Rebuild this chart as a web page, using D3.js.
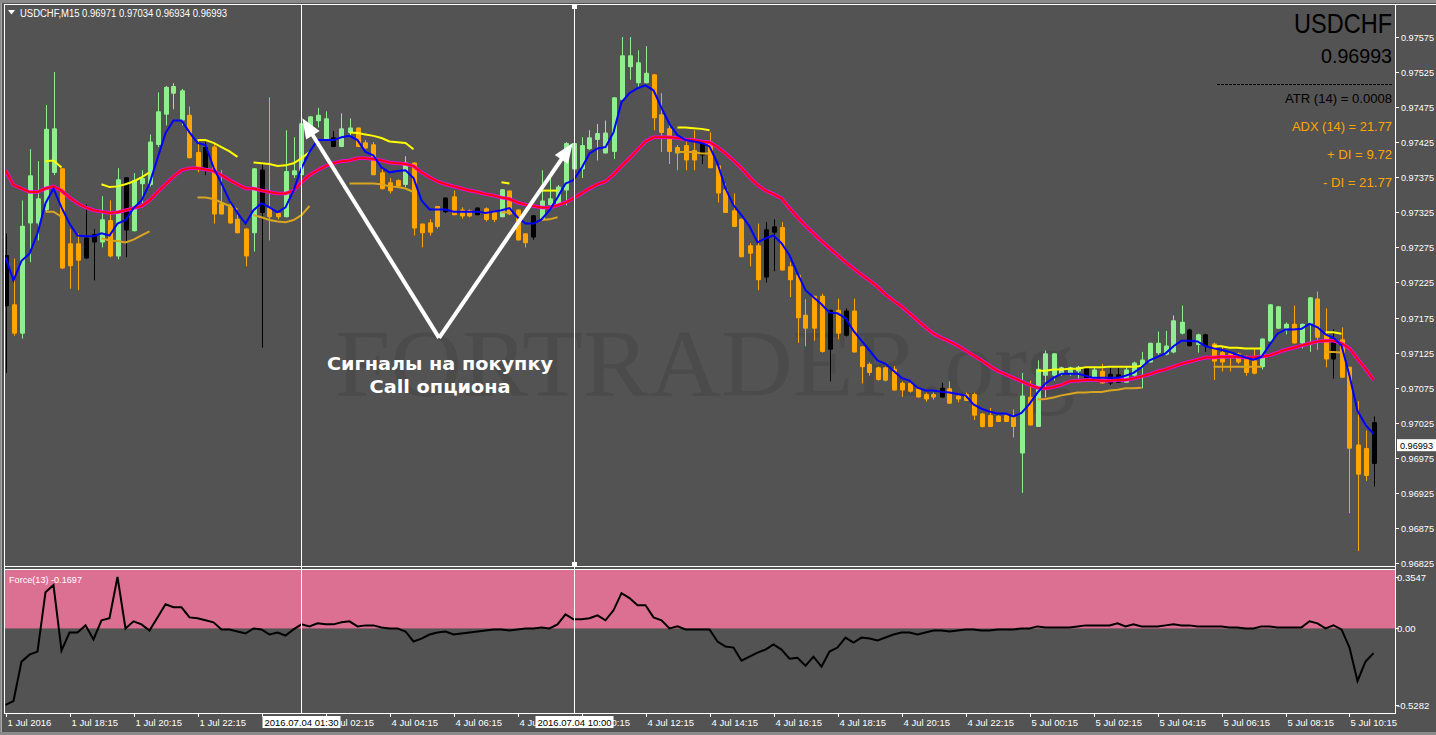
<!DOCTYPE html>
<html><head><meta charset="utf-8">
<script src="https://cdn.jsdelivr.net/npm/d3@7"></script>
<style>html,body{margin:0;padding:0;background:#707070;overflow:hidden}svg{display:block}</style>
</head><body><svg id="c" width="1436" height="735"></svg>
<script>
// ---------------- DATA ----------------
const symbol = "USDCHF", timeframe = "M15";
const headerOHLC = [0.96971, 0.97034, 0.96934, 0.96993];
const lastPrice = 0.96993;
// candle colour class: g = light green, o = orange, k = black
const kinds = "kogggggooo"+"kkgogkgggg"+"gggookoooo"+"ogkooggggg"+"gkggoooooo"+"gooookoook"+"oogoookggg"+"gggggggggg"+"gooooookoo"+"oooookkooo"+"oookokoooo"+"oooooookoo"+"ooooooogog"+"gggggkgokk"+"ggggggggkg"+"kooooooggg"+"goggookooo"+"ok";
const open = [.97264,.97194,.97152,.97309,.97309,.97328,.97381,.97388,.97281,.97281,
.97289,.97294,.97282,.97314,.97262,.97375,.97298,.97365,.97364,.97421,
.97464,.97494,.97456,.97464,.97411,.97418,.97419,.97338,.97336,.97316,
.97302,.97295,.97386,.97332,.97324,.97318,.97378,.97378,.97446,.97455,
.97428,.97432,.97418,.97438,.97446,.97425,.97422,.97382,.97368,.97371,
.97364,.97396,.97309,.97311,.97334,.97346,.97348,.97329,.97328,.97332,
.97331,.97325,.97318,.97356,.97329,.97295,.97321,.97314,.97335,.97334,
.97356,.97386,.97386,.97415,.97428,.97409,.97411,.97485,.97532,.97509,
.97509,.97522,.97465,.97445,.97418,.97421,.97414,.97426,.97426,.97392,
.97358,.97328,.97316,.97278,.97278,.97301,.97305,.97304,.97248,.97236,
.97179,.97206,.97206,.97186,.97186,.97185,.97185,.97134,.97109,.97104,
.97104,.97102,.97082,.97082,.97074,.97066,.97066,.97075,.97074,.97064,
.97066,.97066,.97038,.97036,.97035,.97036,.97034,.96981,.97062,.97019,
.97092,.97092,.97094,.97094,.97098,.97104,.97086,.97099,.97095,.97094,
.97082,.97092,.97106,.97111,.97124,.97122,.97125,.97152,.97158,.97136,
.97151,.97138,.97126,.97124,.97124,.97119,.97114,.97104,.97141,.97159,
.97159,.97166,.97138,.97166,.97202,.97152,.97145,.97144,.97105,.96994,
.96989,.97026];
const high = [.97295,.97259,.97342,.97415,.97398,.97478,.97525,.97388,.97301,.97295,
.97336,.97301,.97348,.97342,.97388,.97375,.97381,.97385,.97436,.97496,
.97505,.97509,.97501,.97476,.97428,.97425,.97425,.97385,.97342,.97322,
.97302,.97388,.97395,.97489,.97326,.97442,.97432,.97452,.97462,.97474,
.97469,.97441,.97466,.97459,.97446,.97428,.97425,.97388,.97374,.97372,
.97405,.97396,.97309,.97315,.97334,.97346,.97356,.97332,.97329,.97332,
.97332,.97326,.97358,.97356,.97329,.97295,.97321,.97385,.97382,.97364,
.97425,.97425,.97432,.97442,.97451,.97456,.97489,.97575,.97575,.97556,
.97562,.97522,.97495,.97449,.97421,.97428,.97442,.97428,.97439,.97392,
.97366,.97352,.97316,.97281,.97309,.97311,.97315,.97311,.97254,.97236,
.97201,.97206,.97209,.97186,.97202,.97188,.97202,.97134,.97111,.97105,
.97105,.97106,.97084,.97084,.97075,.97068,.97068,.97082,.97084,.97065,
.97068,.97068,.97039,.97046,.97036,.97038,.97044,.97096,.97085,.97114,
.97128,.97124,.97105,.97105,.97106,.97105,.97104,.97109,.97104,.97104,
.97105,.97112,.97126,.97139,.97155,.97156,.97178,.97192,.97159,.97152,
.97152,.97139,.97134,.97125,.97125,.97121,.97131,.97145,.97194,.97191,
.97168,.97192,.97166,.97204,.97212,.97188,.97158,.97161,.97105,.97056,
.97014,.97034];
const low = [.97096,.97149,.97145,.97254,.97285,.97325,.97378,.97244,.97216,.97214,
.97259,.97228,.97275,.97261,.97258,.97261,.97298,.97332,.97362,.97418,
.97449,.97472,.97449,.97402,.97382,.97378,.97309,.97322,.97309,.97295,
.97248,.97269,.97132,.97285,.97315,.97318,.97374,.97378,.97446,.97446,
.97428,.97418,.97418,.97432,.97418,.97416,.97378,.97358,.97352,.97361,
.97361,.97292,.97275,.97292,.97302,.97324,.97321,.97316,.97318,.97321,
.97312,.97311,.97318,.97321,.97285,.97275,.97286,.97314,.97332,.97334,
.97335,.97374,.97374,.97414,.97399,.97409,.97401,.97485,.97514,.97504,
.97509,.97442,.97411,.97394,.97385,.97385,.97385,.97394,.97388,.97339,
.97324,.97304,.97261,.97248,.97214,.97225,.97241,.97242,.97204,.97139,
.97134,.97142,.97125,.97084,.97144,.97148,.97125,.97081,.97092,.97085,
.97084,.97071,.97062,.97068,.97061,.97055,.97058,.97061,.97052,.97054,
.97056,.97029,.97018,.97019,.97026,.97026,.97004,.96925,.97021,.97019,
.97061,.97085,.97092,.97092,.97088,.97086,.97086,.97081,.97079,.97082,
.97082,.97086,.97074,.97111,.97122,.97121,.97124,.97151,.97134,.97125,
.97126,.97086,.97098,.97098,.97109,.97092,.97094,.97101,.97141,.97159,
.97151,.97138,.97131,.97126,.97129,.97104,.97088,.97089,.96896,.96842,
.96942,.96934];
const close = [.97191,.97152,.97306,.97378,.97345,.97444,.97445,.97245,.97248,.97256,
.97259,.97282,.97315,.97262,.97372,.97299,.97371,.97374,.97426,.97469,
.97504,.97505,.97499,.97402,.97385,.97385,.97322,.97322,.97309,.97295,
.97262,.97388,.97324,.97318,.97318,.97384,.97385,.97452,.97462,.97464,
.97459,.97418,.97445,.97446,.97418,.97416,.97378,.97358,.97355,.97362,
.97396,.97302,.97295,.97296,.97304,.97325,.97321,.97319,.97319,.97321,
.97314,.97314,.97358,.97322,.97285,.97281,.97289,.97342,.97345,.97362,
.97424,.97424,.97421,.97432,.97438,.97439,.97489,.97549,.97549,.97539,
.97524,.97459,.97438,.97411,.97409,.97399,.97399,.97406,.97388,.97352,
.97324,.97304,.97261,.97266,.97228,.97232,.97296,.97242,.97228,.97174,
.97159,.97159,.97126,.97129,.97152,.97149,.97125,.97104,.97096,.97086,
.97085,.97071,.97071,.97069,.97061,.97058,.97061,.97061,.97052,.97058,
.97056,.97035,.97019,.97019,.97026,.97026,.97019,.97064,.97021,.97102,
.97124,.97124,.97104,.97104,.97105,.97088,.97101,.97081,.97081,.97082,
.97101,.97111,.97115,.97139,.97139,.97135,.97171,.97169,.97134,.97151,
.97134,.97112,.97111,.97118,.97111,.97096,.97095,.97145,.97194,.97191,
.97166,.97138,.97166,.97204,.97146,.97115,.97115,.97089,.96988,.96951,
.96949,.96966];
// fast (blue) and slow (red) moving averages
const fastMA = [.97261,.97228,.97256,.97266,.97295,.97338,.97359,.97332,.97309,.97292,
.97291,.97291,.97295,.97292,.97309,.97314,.97331,.97342,.97366,.97402,
.97438,.97456,.97456,.97439,.97424,.97421,.97389,.97366,.97342,.97324,
.97309,.97328,.97338,.97332,.97325,.97332,.97356,.97388,.97411,.97428,
.97428,.97428,.97432,.97434,.97428,.97411,.97406,.97389,.97382,.97384,
.97385,.97374,.97342,.97329,.97329,.97329,.97326,.97326,.97326,.97326,
.97324,.97326,.97328,.97331,.97318,.97309,.97309,.97315,.97328,.97346,
.97366,.97371,.97388,.97409,.97416,.97418,.97439,.97482,.97495,.97502,
.97506,.97499,.97474,.97451,.97435,.97428,.97426,.97424,.97419,.97395,
.97359,.97335,.97321,.97305,.97282,.97288,.97292,.97281,.97264,.97238,
.97214,.97204,.97194,.97182,.97181,.97174,.97156,.97142,.97128,.97114,
.97109,.97099,.97089,.97085,.97075,.97071,.97071,.97069,.97068,.97066,
.97064,.97051,.97045,.97041,.97038,.97038,.97034,.97039,.97052,.97068,
.97081,.97089,.97095,.97095,.97095,.97092,.97089,.97089,.97089,.97089,
.97092,.97096,.97104,.97114,.97119,.97124,.97134,.97142,.97142,.97141,
.97134,.97131,.97129,.97126,.97122,.97118,.97115,.97119,.97136,.97152,
.97158,.97158,.97159,.97166,.97161,.97151,.97146,.97135,.97092,.97042,
.97022,.97009];
const slowMA = [.97385,.97364,.97359,.97354,.97354,.97359,.97362,.97356,.97346,.97338,
.97332,.97328,.97326,.97324,.97325,.97328,.97331,.97334,.97342,.97354,
.97365,.97376,.97385,.97388,.97388,.97386,.97384,.97378,.97371,.97365,
.97359,.97359,.97356,.97354,.97352,.97352,.97356,.97368,.97378,.97385,
.97391,.97395,.97398,.97399,.97402,.97402,.97401,.97399,.97396,.97395,
.97394,.97391,.97382,.97375,.97369,.97365,.97362,.97359,.97356,.97354,
.97351,.97349,.97346,.97344,.97339,.97336,.97334,.97332,.97332,.97335,
.97339,.97345,.97352,.97359,.97365,.97369,.97379,.97391,.97402,.97414,
.97426,.97432,.97432,.97432,.97431,.97429,.97428,.97426,.97425,.97418,
.97409,.97399,.97388,.97375,.97364,.97356,.97351,.97345,.97331,.97318,
.97306,.97295,.97284,.97274,.97264,.97254,.97245,.97236,.97228,.97219,
.97208,.97199,.97191,.97181,.97171,.97161,.97152,.97146,.97141,.97135,
.97128,.97121,.97114,.97106,.97099,.97094,.97089,.97084,.97079,.97075,
.97074,.97076,.97079,.97084,.97085,.97086,.97086,.97085,.97085,.97086,
.97086,.97088,.97091,.97094,.97098,.97101,.97105,.97109,.97112,.97115,
.97118,.97118,.97119,.97119,.97119,.97118,.97118,.97119,.97121,.97125,
.97129,.97132,.97135,.97138,.97141,.97142,.97142,.97138,.97131,.97116,
.97102,.97086];
// channel segments (first candle index, values)
const upperStart = [5,12,24,31,43,62,67,84,129,151,165];
const upperVals = [
 [.97398,.97399,.97389],
 [.97365,.97361,.97362,.97365,.97369,.97375,.97382],
 [.97428,.97428,.97424,.97418,.97412,.97404],
 [.97396,.97395,.97394,.97391,.97392,.97395,.97402,.97411],
 [.97439,.97438,.97436,.97434,.97431,.97426,.97425,.97424,.97415],
 [.97368,.97366],
 [.97356,.97356,.97356],
 [.97446,.97446,.97445,.97444,.97442],
 [.97099,.97099,.97101,.97101,.97102,.97102,.97104,.97104,.97104,.97105,.97105,.97105,.97105,.97106],
 [.97134,.97134,.97132,.97132,.97131,.97131,.97131],
 [.97154,.97154,.97152]];
const lowerStart = [5,12,24,31,43,62,67,84,129,151,165];
const lowerVals = [
 [.97326,.97326,.97319],
 [.97288,.97285,.97284,.97282,.97286,.97292,.97298],
 [.97346,.97346,.97344,.97339,.97334,.97329],
 [.97321,.97318,.97314,.97312,.97311,.97314,.97321,.97334],
 [.97366,.97366,.97366,.97366,.97365,.97362,.97361,.97359,.97354],
 [.97325,.97325],
 [.97314,.97315,.97318],
 [.97411,.97411,.97411,.97409,.97409],
 [.97058,.97059,.97061,.97064,.97066,.97068,.97068,.97069,.97069,.97071,.97072,.97074,.97074,.97075],
 [.97105,.97105,.97105,.97105,.97105,.97105,.97105],
 [.97126,.97126,.97125]];
// Force Index (13)
const force = [-0.528,-0.501,-0.229,-0.181,-0.160,0.250,0.299,-0.153,-0.028,-0.028,
0.021,-0.076,0.056,0.070,0.355,0.000,0.049,0.028,-0.014,0.076,
0.167,0.146,0.146,0.076,0.070,0.056,0.042,-0.007,-0.007,-0.021,
-0.035,0.000,-0.007,-0.042,-0.028,-0.049,-0.007,0.028,0.014,0.035,
0.028,0.028,0.042,0.049,0.014,0.021,0.021,0.007,0.000,0.000,
-0.021,-0.090,-0.070,-0.042,-0.028,-0.021,-0.042,-0.035,-0.028,-0.021,
-0.014,-0.007,-0.007,-0.014,-0.007,0.000,0.000,0.007,0.000,0.028,
0.097,0.063,0.063,0.070,0.090,0.056,0.125,0.243,0.209,0.160,
0.160,0.076,0.056,0.000,0.014,-0.007,-0.007,-0.007,-0.007,-0.090,
-0.125,-0.132,-0.223,-0.195,-0.167,-0.146,-0.111,-0.146,-0.209,-0.202,
-0.257,-0.195,-0.264,-0.160,-0.132,-0.063,-0.097,-0.063,-0.070,-0.083,
-0.063,-0.042,-0.028,-0.028,-0.042,-0.028,-0.014,-0.014,-0.021,-0.014,
-0.007,-0.007,-0.014,-0.014,-0.007,-0.007,-0.007,0.000,0.000,0.014,
0.007,0.007,0.007,0.007,0.014,0.021,0.021,0.021,0.021,0.035,
0.014,0.028,0.014,0.014,0.014,0.021,0.028,0.021,0.021,0.014,
0.014,0.014,0.014,0.007,0.007,0.000,0.000,0.014,0.014,0.007,
0.007,0.007,0.007,0.049,0.035,0.000,0.021,-0.007,-0.132,-0.362,
-0.229,-0.170];
const forceLabel = "Force(13) -0.1697";
const priceTicks = [0.96825,0.96875,0.96925,0.96975,0.97025,0.97075,0.97125,0.97175,0.97225,0.97275,0.97325,0.97375,0.97425,0.97475,0.97525,0.97575];
const forceTicks = [0.3547, 0.00, -0.5282];
const forceTickLabels = ["0.3547","0.00","-0.5282"];
const timeTickEvery = 8;
const timeLabels = ["1 Jul 2016","1 Jul 18:15","1 Jul 20:15","1 Jul 22:15","4 Jul 00:15","4 Jul 02:15","4 Jul 04:15","4 Jul 06:15","4 Jul 08:15","4 Jul 10:15","4 Jul 12:15","4 Jul 14:15","4 Jul 16:15","4 Jul 18:15","4 Jul 20:15","4 Jul 22:15","5 Jul 00:15","5 Jul 02:15","5 Jul 04:15","5 Jul 06:15","5 Jul 08:15","5 Jul 10:15"];
const crossIdx = [37, 71];
const crossLabels = ["2016.07.04 01:30","2016.07.04 10:00"];
const infoLines = [
  {t:"ATR (14) = 0.0008", c:"#000000", w:107},
  {t:"ADX (14) = 21.77", c:"#FFA500", w:100},
  {t:"+ DI = 9.72", c:"#FFA500", w:65},
  {t:"- DI = 21.77", c:"#FFA500", w:69}];
const signalText = ["Сигналы на покупку","Call опциона"];
// arrow annotation in data coordinates (candle index, price)
const arrowBase = [54.2, 0.97146];
const arrowTips = [[37.1, 0.97459],[70.9, 0.97424]];

// ---------------- DRAW ----------------
const svg = d3.select("#c");
const FONT = "'Liberation Sans', Arial, sans-serif";
const BG = "#535353";
const colorOf = {g:"#90EE90", o:"#FFA500", k:"#000000"};

const x = d3.scaleLinear().domain([0,171]).range([5.5,1373.5]);
const y = d3.scaleLinear().domain([0.96825,0.97575]).range([563,37]);
const yF = d3.scaleLinear().domain([-0.5282,0.3547]).range([705,577]);

const defs = svg.append("defs");
defs.append("clipPath").attr("id","cm").append("rect").attr("x",5).attr("y",5).attr("width",1390).attr("height",561);
defs.append("clipPath").attr("id","cf").append("rect").attr("x",5).attr("y",570).attr("width",1390).attr("height",143);

svg.append("rect").attr("x",0).attr("y",0).attr("width",1436).attr("height",735).attr("fill","#8a8a8a");
svg.append("rect").attr("x",2).attr("y",3).attr("width",1434).attr("height",729).attr("fill",BG);

// watermark
svg.append("text").attr("x",335).attr("y",396).attr("font-family","'Liberation Serif','Times New Roman',serif")
  .attr("font-size",96).attr("fill","#4b4b4b").attr("textLength",740).attr("lengthAdjust","spacingAndGlyphs")
  .text("FORTRADER.org");

// force panel fill (positive area)
svg.append("rect").attr("x",5).attr("y",570).attr("width",1390).attr("height",yF(0)-570).attr("fill","#DB7093");

// candles
const gC = svg.append("g").attr("clip-path","url(#cm)");
const idx = d3.range(open.length);
gC.selectAll("line.w").data(idx).join("line")
  .attr("x1",i=>Math.round(x(i))+0.5).attr("x2",i=>Math.round(x(i))+0.5)
  .attr("y1",i=>y(high[i])).attr("y2",i=>y(low[i]))
  .attr("stroke",i=>colorOf[kinds[i]]).attr("stroke-width",1);
gC.selectAll("rect.b").data(idx).join("rect")
  .attr("x",i=>Math.round(x(i))-2).attr("width",5)
  .attr("y",i=>y(Math.max(open[i],close[i])))
  .attr("height",i=>Math.max(2,y(Math.min(open[i],close[i]))-y(Math.max(open[i],close[i]))))
  .attr("rx",1).attr("fill",i=>colorOf[kinds[i]]);

// lines
const line = d3.line().x(d=>x(d[0])).y(d=>y(d[1]));
const gL = svg.append("g").attr("clip-path","url(#cm)").attr("fill","none");
upperStart.forEach((s,k)=>{
  gL.append("path").attr("d",line(upperVals[k].map((v,j)=>[s+j,v]))).attr("stroke","#FFFF00").attr("stroke-width",2);
});
lowerStart.forEach((s,k)=>{
  gL.append("path").attr("d",line(lowerVals[k].map((v,j)=>[s+j,v]))).attr("stroke","#DAA520").attr("stroke-width",2);
});
const slowPts = slowMA.map((v,i)=>[i,v]);
gL.append("path").attr("d",line(slowPts)).attr("stroke","#FF00FF").attr("stroke-width",3.5);
gL.append("path").attr("d",line(slowPts)).attr("stroke","#FF0000").attr("stroke-width",2);
gL.append("path").attr("d",line(fastMA.map((v,i)=>[i,v]))).attr("stroke","#0000FF").attr("stroke-width",2);

// force line
const fLine = d3.line().x((d,i)=>x(i)).y(d=>yF(d));
svg.append("g").attr("clip-path","url(#cf)").append("path").attr("d",fLine(force))
  .attr("fill","none").attr("stroke","#000").attr("stroke-width",2);

// frame
const fr = svg.append("g").attr("stroke","#ffffff").attr("stroke-width",1).attr("shape-rendering","crispEdges");
fr.append("line").attr("x1",4).attr("x2",1436).attr("y1",4.5).attr("y2",4.5);
fr.append("line").attr("x1",4.5).attr("x2",4.5).attr("y1",4).attr("y2",714);
fr.append("line").attr("x1",1395.5).attr("x2",1395.5).attr("y1",4).attr("y2",714);
fr.append("line").attr("x1",4).attr("x2",1396).attr("y1",566.5).attr("y2",566.5);
fr.append("line").attr("x1",4).attr("x2",1396).attr("y1",569.5).attr("y2",569.5);
fr.append("line").attr("x1",4).attr("x2",1396).attr("y1",713.5).attr("y2",713.5);
svg.append("line").attr("x1",1.5).attr("x2",1.5).attr("y1",3).attr("y2",732).attr("stroke","#a8a8a8");

// crosshairs
crossIdx.forEach((ci,k)=>{
  const cx = Math.round(x(ci))+0.5;
  svg.append("line").attr("x1",cx).attr("x2",cx).attr("y1",5).attr("y2",713).attr("stroke","#fff").attr("stroke-width",1);
  if(k===1){
    svg.append("rect").attr("x",cx-2.5).attr("y",5).attr("width",5).attr("height",4).attr("fill","#fff");
    svg.append("rect").attr("x",cx-2.5).attr("y",562).attr("width",5).attr("height",4).attr("fill","#fff");
  }
});

// price axis
const ax = svg.append("g").attr("font-family",FONT).attr("font-size",9.5).attr("fill","#fff");
priceTicks.forEach(p=>{
  const yy = Math.round(y(p))+0.5;
  ax.append("line").attr("x1",1395).attr("x2",1399).attr("y1",yy).attr("y2",yy).attr("stroke","#fff");
  ax.append("text").attr("x",1401).attr("y",yy+3.5).attr("textLength",33).attr("lengthAdjust","spacingAndGlyphs").text(d3.format(".5f")(p));
});
// current price box
const ly = y(lastPrice);
svg.append("rect").attr("x",1397).attr("y",ly-6).attr("width",39).attr("height",12).attr("fill","#fff");
svg.append("text").attr("x",1400).attr("y",ly+3.5).attr("font-family",FONT).attr("font-size",9.5).attr("fill","#000")
  .attr("textLength",33).attr("lengthAdjust","spacingAndGlyphs").text(d3.format(".5f")(lastPrice));
// force axis
forceTicks.forEach((v,k)=>{
  const yy = Math.round(yF(v))+0.5;
  ax.append("line").attr("x1",1395).attr("x2",1399).attr("y1",yy).attr("y2",yy).attr("stroke","#fff");
  ax.append("text").attr("x",1397).attr("y",yy+3.5).text(forceTickLabels[k]);
});
// time axis
timeLabels.forEach((t,k)=>{
  const xx = Math.round(x(k*timeTickEvery))+0.5;
  ax.append("line").attr("x1",xx).attr("x2",xx).attr("y1",713).attr("y2",717).attr("stroke","#fff");
  ax.append("text").attr("x",xx+1).attr("y",726).text(t);
});
crossIdx.forEach((ci,k)=>{
  const cx = Math.round(x(ci))+0.5;
  svg.append("rect").attr("x",cx-39).attr("y",716).attr("width",78).attr("height",12).attr("fill","#fff");
  svg.append("text").attr("x",cx).attr("y",726).attr("text-anchor","middle").attr("font-family",FONT)
    .attr("font-size",9.5).attr("fill","#000").text(crossLabels[k]);
});

// header
svg.append("path").attr("d","M8,10 L15,10 L11.5,14.5 Z").attr("fill","#fff");
svg.append("text").attr("x",20).attr("y",17).attr("font-family",FONT).attr("font-size",10).attr("fill","#fff")
  .attr("textLength",207).attr("lengthAdjust","spacingAndGlyphs")
  .text(`${symbol},${timeframe}  ${headerOHLC.map(d3.format(".5f")).join(" ")}`);
svg.append("text").attr("x",9).attr("y",583).attr("font-family",FONT).attr("font-size",9).attr("fill","#fff")
  .attr("textLength",73).attr("lengthAdjust","spacingAndGlyphs").text(forceLabel);

// info block (top right)
const ib = svg.append("g").attr("font-family",FONT).attr("text-anchor","end");
ib.append("text").attr("x",1392).attr("y",33).attr("font-size",28).attr("fill","#000")
  .attr("textLength",98).attr("lengthAdjust","spacingAndGlyphs").text(symbol);
ib.append("text").attr("x",1392).attr("y",63).attr("font-size",20).attr("fill","#000")
  .attr("textLength",71).attr("lengthAdjust","spacingAndGlyphs").text(d3.format(".5f")(lastPrice));
svg.append("line").attr("x1",1217).attr("x2",1392).attr("y1",84.5).attr("y2",84.5).attr("stroke","#000").attr("stroke-dasharray","3,1");
infoLines.forEach((l,k)=>{
  ib.append("text").attr("x",1392).attr("y",103+28*k).attr("font-size",12).attr("fill",l.c)
    .attr("textLength",l.w).attr("lengthAdjust","spacingAndGlyphs").text(l.t);
});

// arrows
const bx = x(arrowBase[0]), by = y(arrowBase[1]);
arrowTips.forEach(t=>{
  const tx = x(t[0]), ty = y(t[1]);
  const ang = Math.atan2(ty-by, tx-bx);
  const L = 20, Wd = 8;
  const ex = tx - Math.cos(ang)*L*0.8, ey = ty - Math.sin(ang)*L*0.8;
  svg.append("line").attr("x1",bx).attr("y1",by).attr("x2",ex).attr("y2",ey).attr("stroke","#fff").attr("stroke-width",4);
  const hx = tx - Math.cos(ang)*L, hy = ty - Math.sin(ang)*L;
  const px = -Math.sin(ang)*Wd, py = Math.cos(ang)*Wd;
  svg.append("path").attr("d",`M${tx},${ty} L${hx+px},${hy+py} L${hx-px},${hy-py} Z`).attr("fill","#fff");
});
svg.append("text").attr("x",440).attr("y",370).attr("text-anchor","middle").attr("font-family","'DejaVu Sans',Verdana,sans-serif")
  .attr("font-weight","bold").attr("font-size",18).attr("fill","#fff").attr("textLength",226).attr("lengthAdjust","spacingAndGlyphs").text(signalText[0]);
svg.append("text").attr("x",440).attr("y",393).attr("text-anchor","middle").attr("font-family","'DejaVu Sans',Verdana,sans-serif")
  .attr("font-weight","bold").attr("font-size",18).attr("fill","#fff").attr("textLength",141).attr("lengthAdjust","spacingAndGlyphs").text(signalText[1]);
</script>
</body></html>
